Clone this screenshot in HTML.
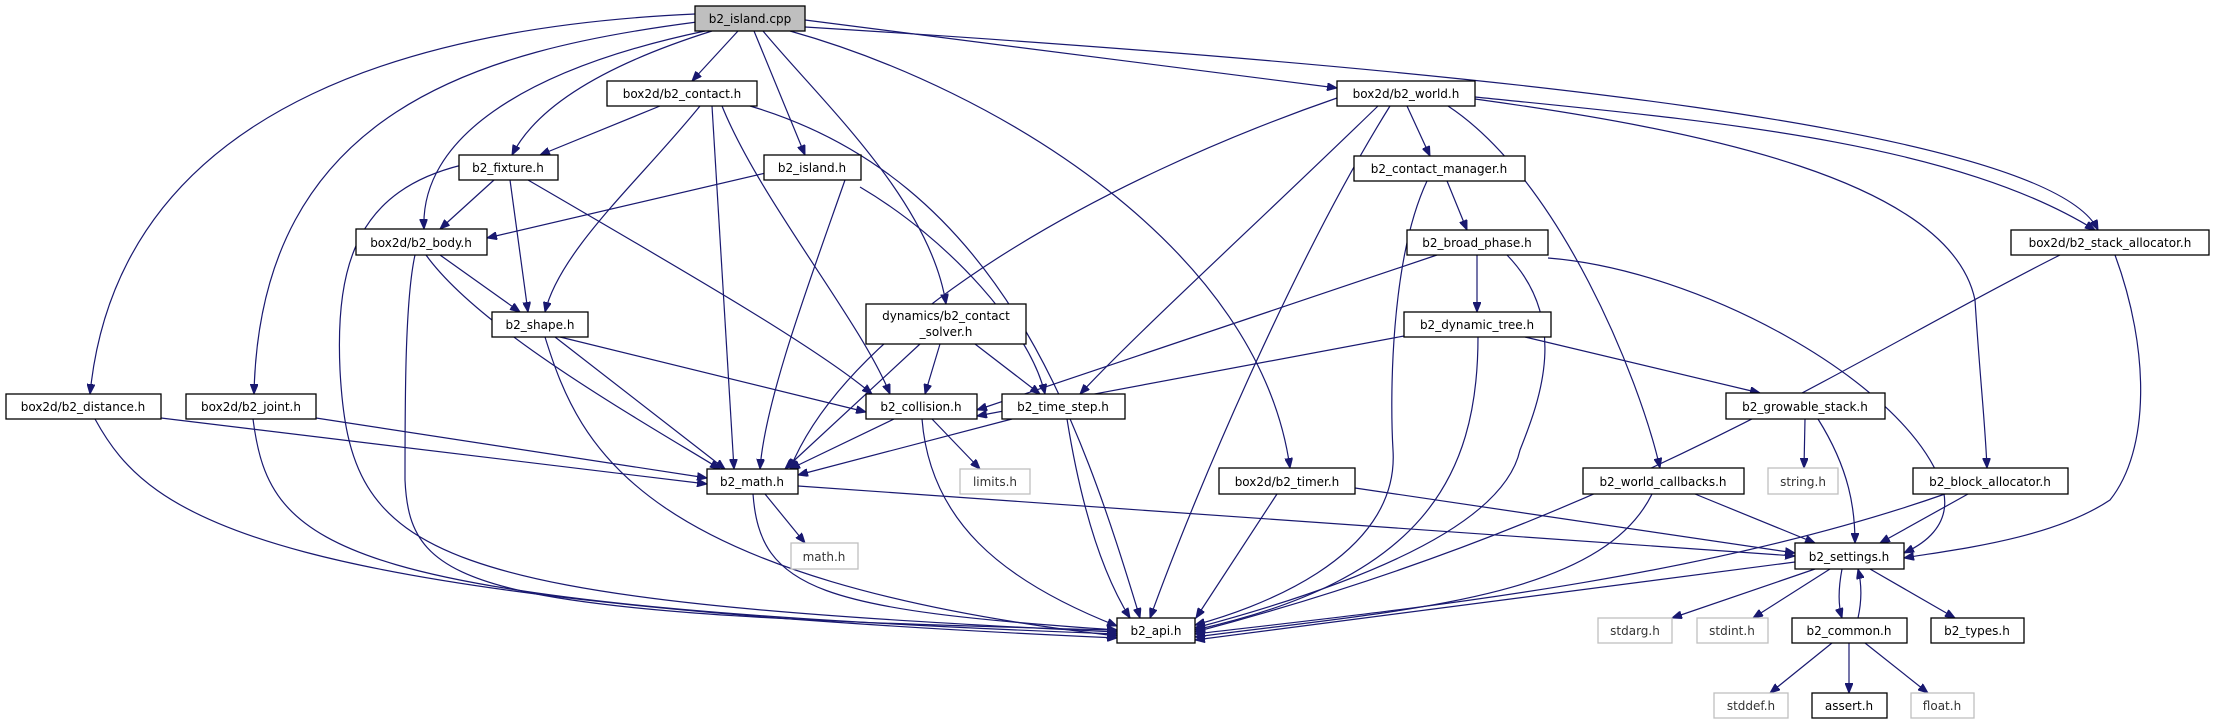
<!DOCTYPE html>
<html><head><meta charset="utf-8"><style>
html,body{margin:0;padding:0;background:#fff;}
svg{display:block;}
text{font-family:"DejaVu Sans","Liberation Sans",sans-serif;font-size:12px;fill:#000;}
.n rect{fill:#fff;stroke:#000;stroke-width:1.3;}
.g rect{fill:#fff;stroke:#bfbfbf;stroke-width:1.3;}
.g text{fill:#333;}
path.e{fill:none;stroke:#191970;stroke-width:1.2;marker-end:url(#a);}
</style></head><body>
<svg width="2215" height="724" viewBox="0 0 2215 724" xmlns="http://www.w3.org/2000/svg">
<defs><marker id="a" markerUnits="userSpaceOnUse" markerWidth="11" markerHeight="8" refX="10" refY="4" orient="auto"><path d="M0,0 L10,4 L0,8 z" fill="#191970" stroke="#191970"/></marker></defs>
<g>
<path class="e" d="M695,14 C450,25 120,90 90,394"/>
<path class="e" d="M697,22 C480,50 260,110 254,394"/>
<path class="e" d="M712,31 C620,60 540,100 512,155"/>
<path class="e" d="M705,31 C520,70 420,140 424,229"/>
<path class="e" d="M738,31 L692,81"/>
<path class="e" d="M754,31 L805,155"/>
<path class="e" d="M763,31 C820,100 930,200 946,304"/>
<path class="e" d="M790,31 C1000,90 1260,250 1290,468"/>
<path class="e" d="M805,20 L1337,88"/>
<path class="e" d="M805,27 C1500,70 2050,130 2098,230"/>
<path class="e" d="M660,106 L540,155"/>
<path class="e" d="M700,106 C640,180 560,250 545,312"/>
<path class="e" d="M712,106 L734,469"/>
<path class="e" d="M722,106 C760,200 860,320 890,394"/>
<path class="e" d="M750,106 C1000,180 1080,420 1140,618"/>
<path class="e" d="M494,180 L440,229"/>
<path class="e" d="M510,180 L528,312"/>
<path class="e" d="M528,180 C700,280 820,350 872,394"/>
<path class="e" d="M462,165 C360,190 335,260 340,370 C350,560 420,600 1117,632"/>
<path class="e" d="M415,255 C405,300 405,400 405,480 C410,590 470,615 1117,630"/>
<path class="e" d="M440,255 L520,312"/>
<path class="e" d="M426,255 C480,330 640,420 720,469"/>
<path class="e" d="M560,337 L866,412"/>
<path class="e" d="M555,337 L725,469"/>
<path class="e" d="M545,337 C580,450 640,580 1117,636"/>
<path class="e" d="M770,172 L487,238"/>
<path class="e" d="M845,180 C810,280 765,400 760,469"/>
<path class="e" d="M860,187 C950,240 1030,330 1045,394"/>
<path class="e" d="M920,344 L785,469"/>
<path class="e" d="M940,344 L925,394"/>
<path class="e" d="M975,344 L1040,394"/>
<path class="e" d="M894,419 L790,469"/>
<path class="e" d="M932,419 L980,469"/>
<path class="e" d="M922,419 C930,520 1000,580 1117,626"/>
<path class="e" d="M1012,419 L798,475"/>
<path class="e" d="M1067,419 C1080,500 1100,570 1130,618"/>
<path class="e" d="M161,418 L707,484"/>
<path class="e" d="M95,419 C150,520 260,600 1117,638"/>
<path class="e" d="M316,418 L707,478"/>
<path class="e" d="M253,419 C270,550 330,605 1117,634"/>
<path class="e" d="M765,494 L805,543"/>
<path class="e" d="M753,494 C760,590 820,610 1117,630"/>
<path class="e" d="M798,486 L1795,556"/>
<path class="e" d="M1407,106 L1430,156"/>
<path class="e" d="M1337,98 C1100,180 850,320 790,469"/>
<path class="e" d="M1378,106 C1250,230 1140,330 1080,394"/>
<path class="e" d="M1390,106 C1300,250 1200,480 1150,618"/>
<path class="e" d="M1448,106 C1560,180 1640,380 1660,468"/>
<path class="e" d="M1475,97 C1700,120 1950,140 2095,230"/>
<path class="e" d="M1475,99 C1700,130 1950,180 1975,300 C1980,380 1985,420 1987,468"/>
<path class="e" d="M1447,181 L1467,230"/>
<path class="e" d="M1427,181 C1390,260 1390,400 1393,450 C1400,560 1250,610 1195,625"/>
<path class="e" d="M1477,255 L1477,312"/>
<path class="e" d="M1437,255 L977,410"/>
<path class="e" d="M1507,255 C1570,320 1540,400 1520,450 C1500,540 1300,600 1195,628"/>
<path class="e" d="M1548,258 C1700,270 1900,380 1940,480 C1960,530 1910,550 1904,553"/>
<path class="e" d="M2060,255 C1850,360 1620,520 1195,632"/>
<path class="e" d="M2115,255 C2150,350 2150,450 2110,500 C2050,540 1950,550 1904,558"/>
<path class="e" d="M1404,336 L977,416"/>
<path class="e" d="M1525,337 L1760,393"/>
<path class="e" d="M1478,337 C1478,480 1420,580 1195,630"/>
<path class="e" d="M1805,419 L1804,468"/>
<path class="e" d="M1818,419 C1850,470 1855,510 1855,543"/>
<path class="e" d="M1277,494 L1196,618"/>
<path class="e" d="M1355,488 L1795,553"/>
<path class="e" d="M1652,494 C1600,600 1400,610 1195,637"/>
<path class="e" d="M1695,494 L1815,543"/>
<path class="e" d="M1945,494 C1700,580 1400,610 1195,634"/>
<path class="e" d="M1968,494 L1880,543"/>
<path class="e" d="M1795,562 L1195,640"/>
<path class="e" d="M1815,569 L1672,618"/>
<path class="e" d="M1830,569 L1753,618"/>
<path class="e" d="M1842,569 C1838,590 1838,605 1842,618"/>
<path class="e" d="M1858,618 C1862,600 1862,585 1858,569"/>
<path class="e" d="M1870,569 L1955,618"/>
<path class="e" d="M1832,643 L1770,693"/>
<path class="e" d="M1849,643 L1849,693"/>
<path class="e" d="M1865,643 L1928,693"/>
</g>
<g text-anchor="middle">
<g class="n"><rect x="695" y="6" width="110" height="25" style="fill:#bfbfbf"/><text x="750" y="23">b2_island.cpp</text></g>
<g class="n"><rect x="607" y="81" width="150" height="25"/><text x="682" y="98">box2d/b2_contact.h</text></g>
<g class="n"><rect x="459" y="155" width="99" height="25"/><text x="508" y="172">b2_fixture.h</text></g>
<g class="n"><rect x="764" y="155" width="97" height="25"/><text x="812" y="172">b2_island.h</text></g>
<g class="n"><rect x="356" y="229" width="131" height="26"/><text x="421" y="247">box2d/b2_body.h</text></g>
<g class="n"><rect x="492" y="312" width="96" height="25"/><text x="540" y="329">b2_shape.h</text></g>
<g class="n"><rect x="866" y="304" width="160" height="40"/><text x="946" y="320">dynamics/b2_contact</text><text x="946" y="336">_solver.h</text></g>
<g class="n"><rect x="6" y="394" width="155" height="25"/><text x="83" y="411">box2d/b2_distance.h</text></g>
<g class="n"><rect x="186" y="394" width="130" height="25"/><text x="251" y="411">box2d/b2_joint.h</text></g>
<g class="n"><rect x="866" y="394" width="111" height="25"/><text x="921" y="411">b2_collision.h</text></g>
<g class="n"><rect x="1002" y="394" width="123" height="25"/><text x="1063" y="411">b2_time_step.h</text></g>
<g class="n"><rect x="707" y="469" width="91" height="25"/><text x="752" y="486">b2_math.h</text></g>
<g class="g"><rect x="960" y="469" width="70" height="25"/><text x="995" y="486">limits.h</text></g>
<g class="g"><rect x="791" y="543" width="67" height="26"/><text x="824" y="561">math.h</text></g>
<g class="n"><rect x="1337" y="81" width="138" height="25"/><text x="1406" y="98">box2d/b2_world.h</text></g>
<g class="n"><rect x="1354" y="156" width="171" height="25"/><text x="1439" y="173">b2_contact_manager.h</text></g>
<g class="n"><rect x="1407" y="230" width="141" height="25"/><text x="1477" y="247">b2_broad_phase.h</text></g>
<g class="n"><rect x="2011" y="230" width="198" height="25"/><text x="2110" y="247">box2d/b2_stack_allocator.h</text></g>
<g class="n"><rect x="1404" y="312" width="147" height="25"/><text x="1477" y="329">b2_dynamic_tree.h</text></g>
<g class="n"><rect x="1726" y="393" width="159" height="26"/><text x="1805" y="411">b2_growable_stack.h</text></g>
<g class="n"><rect x="1219" y="468" width="136" height="26"/><text x="1287" y="486">box2d/b2_timer.h</text></g>
<g class="n"><rect x="1583" y="468" width="161" height="26"/><text x="1663" y="486">b2_world_callbacks.h</text></g>
<g class="g"><rect x="1768" y="468" width="70" height="26"/><text x="1803" y="486">string.h</text></g>
<g class="n"><rect x="1913" y="468" width="155" height="26"/><text x="1990" y="486">b2_block_allocator.h</text></g>
<g class="n"><rect x="1795" y="543" width="109" height="26"/><text x="1849" y="561">b2_settings.h</text></g>
<g class="n"><rect x="1117" y="618" width="78" height="25"/><text x="1156" y="635">b2_api.h</text></g>
<g class="g"><rect x="1598" y="618" width="74" height="25"/><text x="1635" y="635">stdarg.h</text></g>
<g class="g"><rect x="1697" y="618" width="71" height="25"/><text x="1732" y="635">stdint.h</text></g>
<g class="n"><rect x="1792" y="618" width="115" height="25"/><text x="1849" y="635">b2_common.h</text></g>
<g class="n"><rect x="1931" y="618" width="93" height="25"/><text x="1977" y="635">b2_types.h</text></g>
<g class="g"><rect x="1714" y="693" width="74" height="25"/><text x="1751" y="710">stddef.h</text></g>
<g class="n"><rect x="1812" y="693" width="75" height="25"/><text x="1849" y="710">assert.h</text></g>
<g class="g"><rect x="1911" y="693" width="63" height="25"/><text x="1942" y="710">float.h</text></g>
</g>
</svg>
</body></html>
